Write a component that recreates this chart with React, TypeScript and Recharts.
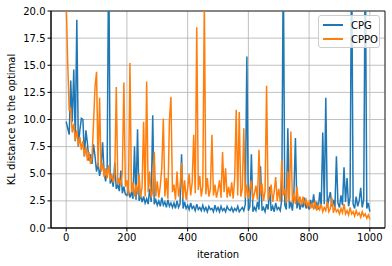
import { CartesianGrid, Line, LineChart, ReferenceArea, XAxis, YAxis } from "recharts";

// one value every 5 iterations, 0..1000
const cpg = [
  9.8, 9.2, 8.6, 13.6, 9.8, 14.6, 8.0, 19.2, 7.5, 9.0,
  10.1, 10.0, 6.6, 9.0, 7.8, 6.2, 6.8, 5.9, 7.7, 6.6,
  5.2, 6.0, 4.8, 5.6, 7.9, 5.0, 4.3, 5.6, 26, 4.1,
  4.6, 3.8, 6.0, 3.6, 4.0, 3.4, 5.3, 3.2, 3.8, 3.1,
  3.0, 3.5, 2.8, 3.3, 2.7, 7.5, 2.6, 9.1, 2.5, 3.0,
  2.4, 2.9, 2.3, 2.7, 2.2, 3.6, 2.4, 10.4, 2.2, 2.6,
  2.1, 2.5, 2.0, 2.8, 2.1, 2.4, 1.9, 2.6, 2.0, 2.3,
  1.9, 2.3, 1.8, 2.5, 1.9, 2.2, 6.8, 1.8, 2.4, 1.8,
  2.1, 1.7, 2.3, 1.8, 2.0, 1.6, 2.2, 1.7, 1.9, 1.6,
  2.1, 1.6, 1.9, 1.5, 2.0, 1.7, 1.8, 1.5, 2.1, 1.6,
  1.9, 1.5, 2.0, 1.6, 1.8, 1.5, 2.0, 1.7, 1.6, 1.9,
  1.5, 1.8, 1.6, 2.0, 1.5, 1.7, 1.9, 1.6, 2.2, 15.8,
  1.6, 2.0, 6.8, 1.5, 1.9, 1.6, 2.4, 1.7, 5.7, 1.6,
  1.9, 1.5, 2.2, 1.7, 3.8, 1.6, 2.0, 1.5, 2.3, 1.7,
  1.9, 1.6, 2.6, 25, 2.1, 1.7, 9.2, 1.8, 2.4, 1.6,
  3.2, 8.3, 1.8, 2.6, 1.7, 2.3, 1.9, 2.8, 1.8, 2.2,
  1.7, 2.6, 1.9, 3.1, 1.8, 2.4, 1.7, 3.3, 2.0, 8.8,
  2.2, 12.0, 1.9, 2.7, 3.3, 2.0, 2.6, 1.8, 6.6, 2.3,
  1.9, 3.0, 2.1, 5.6, 2.4, 4.6, 2.0, 2.8, 26, 2.2,
  1.8, 2.9, 2.0, 2.5, 3.7, 1.9, 2.6, 26, 1.8, 2.3,
  1.5,
];

const cppo = [
  21, 15.2, 10.9, 11.0, 8.8, 9.6, 8.1, 9.0, 7.6, 8.4,
  7.2, 8.0, 6.6, 7.5, 6.2, 7.0, 5.9, 6.5, 9.6, 13.0,
  14.4, 5.6, 12.0, 5.2, 6.0, 4.7, 5.5, 4.6, 5.8, 4.4,
  5.0, 4.2, 4.9, 13.0, 4.0, 4.6, 3.9, 5.1, 13.4, 3.8,
  4.4, 3.0, 15.2, 3.3, 4.2, 2.9, 4.0, 3.1, 5.0, 2.8,
  3.8, 9.8, 2.9, 13.5, 3.3, 5.2, 2.8, 3.4, 7.0, 2.9,
  4.3, 2.8, 3.9, 5.6, 10.1, 2.9, 4.6, 2.7, 9.9, 12.1,
  3.3, 4.0, 2.6, 5.2, 2.9, 3.8, 6.0, 2.7, 4.4, 2.6,
  3.6, 5.0, 3.0, 4.2, 8.6, 3.2, 18.5, 3.5, 4.8, 2.9,
  3.9, 21, 3.1, 4.6, 2.9, 3.6, 8.6, 3.0, 4.0, 2.8,
  3.5, 4.4, 2.8, 7.0, 3.3, 5.5, 2.8, 3.8, 2.9, 4.2,
  2.7, 4.6, 10.9, 3.0, 10.7, 2.9, 3.6, 9.2, 2.8, 4.0,
  2.7, 3.6, 4.4, 2.6, 3.2, 3.9, 2.6, 7.2, 3.0, 4.1,
  2.5, 3.4, 13.1, 2.6, 3.1, 4.0, 2.4, 3.3, 4.7, 2.5,
  3.6, 2.4, 6.3, 3.0, 3.6, 2.3, 5.2, 2.5, 8.9, 2.3,
  3.2, 2.2, 3.8, 2.3, 2.9, 2.1, 2.9, 2.2, 2.6, 2.0,
  2.4, 1.8, 2.3, 1.7, 2.5, 1.6, 2.1, 1.7, 2.2, 1.5,
  1.9, 1.6, 2.4, 1.5, 1.8, 2.8, 1.4, 1.9, 1.5, 1.7,
  1.3, 1.8, 1.4, 2.2, 1.3, 1.6, 1.2, 1.9, 1.3, 1.5,
  1.1, 1.6, 1.2, 1.4, 1.0, 1.5, 1.1, 1.3, 0.9, 1.2,
  0.8,
];

const xTicks = [0, 200, 400, 600, 800, 1000];
const yTicks = [0, 2.5, 5, 7.5, 10, 12.5, 15, 17.5, 20];

const data = cpg.map((v, i) => ({ it: i * 5, CPG: v, CPPO: cppo[i] }));

const font = "'DejaVu Sans', sans-serif";

function LegendBox() {
  const rows = [
    { name: "CPG", color: "#1f77b4" },
    { name: "CPPO", color: "#ff7f0e" },
  ];
  return (
    <div
      style={{
        position: "absolute",
        left: 318,
        top: 15,
        width: 62,
        height: 33,
        background: "rgba(255,255,255,0.8)",
        border: "1px solid #cccccc",
        borderRadius: 3,
        fontFamily: font,
        fontSize: 10,
        color: "#000",
        padding: "2px 0 0 4px",
        boxSizing: "border-box",
      }}
    >
      {rows.map((r) => (
        <div key={r.name} style={{ display: "flex", alignItems: "center", height: 14 }}>
          <span style={{ display: "inline-block", width: 20, height: 1.5, background: r.color, marginRight: 8 }} />
          <span>{r.name}</span>
        </div>
      ))}
    </div>
  );
}

export default function App() {
  return (
    <div style={{ position: "absolute", left: 0, top: 0, width: 392, height: 266, background: "#fff" }}>
      <LineChart width={392} height={266} data={data} margin={{ top: 11, right: 7, bottom: 0, left: 0 }}>
        <CartesianGrid stroke="#b0b0b0" strokeWidth={0.8} />
        <XAxis
          dataKey="it"
          type="number"
          domain={[-50, 1050]}
          ticks={xTicks}
          height={38}
          tickSize={3.5}
          tickMargin={2}
          stroke="#000"
          tick={{ fill: "#000", fontSize: 10, fontFamily: font }}
          label={{
            content: () => (
              <text x={218} y={254} textAnchor="middle" dominantBaseline="central" fontSize={10} fontFamily={font} fill="#000">
                iteration
              </text>
            ),
          }}
        />
        <YAxis
          type="number"
          domain={[0, 20]}
          allowDataOverflow
          ticks={yTicks}
          width={51}
          tickSize={3.5}
          tickMargin={2}
          stroke="#000"
          tickFormatter={(v: number) => v.toFixed(1)}
          tick={{ fill: "#000", fontSize: 10, fontFamily: font }}
          label={{
            content: () => (
              <text
                x={11}
                y={119.5}
                transform="rotate(-90, 11, 119.5)"
                textAnchor="middle"
                dominantBaseline="central"
                fontSize={10}
                fontFamily={font}
                fill="#000"
              >
                KL distance to the optimal
              </text>
            ),
          }}
        />
        <Line dataKey="CPG" stroke="#1f77b4" strokeWidth={1.5} dot={false} activeDot={false} isAnimationActive={false} />
        <Line dataKey="CPPO" stroke="#ff7f0e" strokeWidth={1.5} dot={false} activeDot={false} isAnimationActive={false} />
        <ReferenceArea x1={-50} x2={1050} y1={0} y2={20} fill="none" stroke="#000" strokeWidth={0.8} />
      </LineChart>
      <LegendBox />
    </div>
  );
}
